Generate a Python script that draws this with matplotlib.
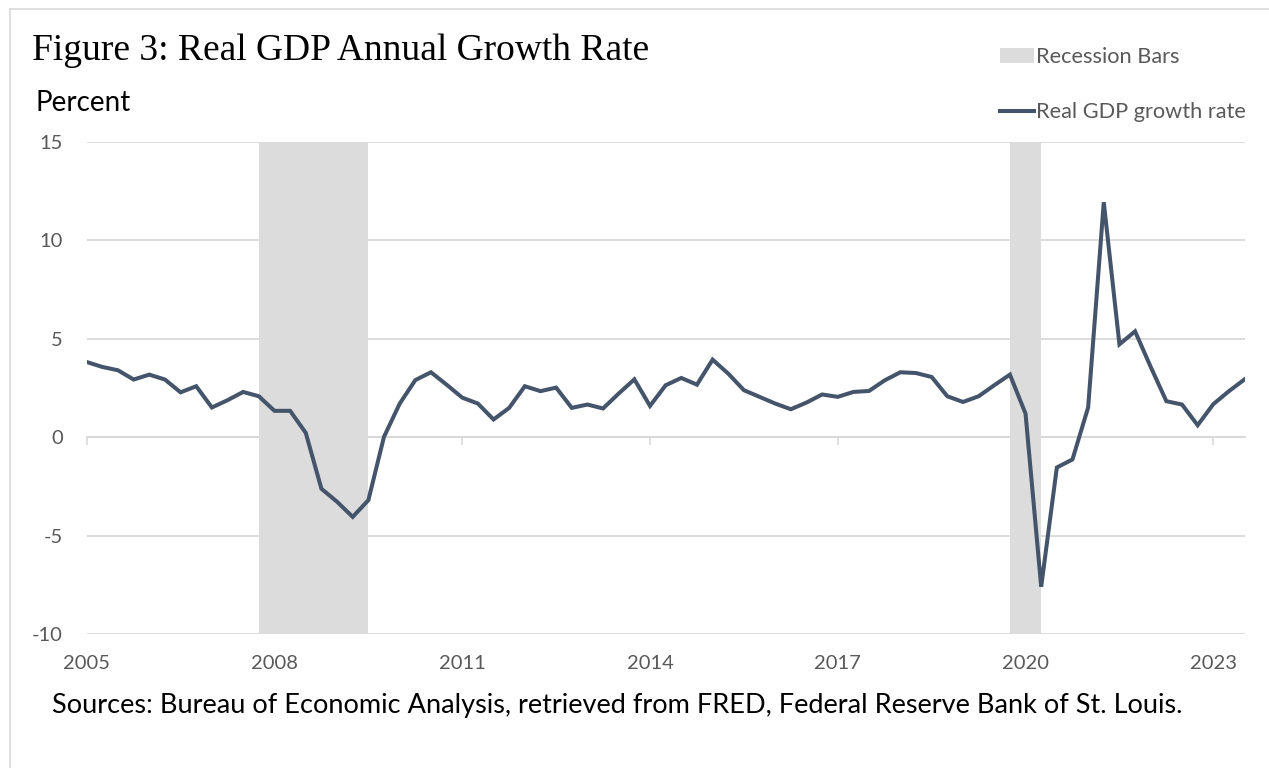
import numpy as np
import matplotlib.pyplot as plt
from matplotlib.lines import Line2D
from matplotlib.patches import Patch

# Real GDP, percent change from a year ago, quarterly 2005Q1 - 2023Q3
start_year = 2005
gdp_growth = [3.82, 3.57, 3.40, 2.93, 3.18, 2.93, 2.28, 2.59,
              1.51, 1.88, 2.30, 2.08, 1.34, 1.34, 0.22, -2.62,
              -3.28, -4.05, -3.20, 0.02, 1.70, 2.90, 3.30, 2.67,
              2.01, 1.71, 0.90, 1.49, 2.59, 2.34, 2.52, 1.49,
              1.66, 1.46, 2.22, 2.94, 1.59, 2.64, 3.01, 2.67,
              3.94, 3.23, 2.39, 2.05, 1.71, 1.42, 1.76, 2.17,
              2.05, 2.30, 2.35, 2.89, 3.30, 3.26, 3.06, 2.08,
              1.79, 2.08, 2.64, 3.18, 1.20, -7.60, -1.54, -1.13,
              1.51, 11.94, 4.72, 5.38, 3.57, 1.83, 1.66, 0.61,
              1.68, 2.34, 2.94]

# recession periods (fractional years)
recessions = [(2007.75, 2009.5), (2019.75, 2020.25)]

x_ticks = [2005, 2008, 2011, 2014, 2017, 2020, 2023]
y_ticks = [-10, -5, 0, 5, 10, 15]

line_color = "#44546a"
bar_color = "#dcdcdc"
grid_color = "#d9d9d9"
text_gray = "#595959"
sans = ["Lato", "DejaVu Sans"]

plt.rcParams["axes.unicode_minus"] = False

W, H = 1269, 768
fig = plt.figure(figsize=(W / 100, H / 100), dpi=100)
ax = fig.add_axes([86.7 / W, 1 - 634 / H, (1244.6 - 86.7) / W, (634 - 142) / H])

x = start_year + np.arange(len(gdp_growth)) / 4.0

for a, b in recessions:
    ax.axvspan(a, b, color=bar_color, lw=0, zorder=1)

ax.plot(x, gdp_growth, color=line_color, lw=2.9, solid_joinstyle="miter", zorder=3)

ax.set_xlim(x[0], x[-1])
ax.set_ylim(-10, 15)
ax.set_yticks(y_ticks)
ax.set_xticks(x_ticks)
ax.set_xticklabels([str(t) for t in x_ticks])
ax.yaxis.grid(True, color=grid_color, lw=1.3, zorder=0)
ax.set_axisbelow(True)
for s in ax.spines.values():
    s.set_visible(False)
ax.tick_params(axis="both", length=0, labelsize=14.5, labelcolor=text_gray)
ax.tick_params(axis="x", pad=15)
ax.tick_params(axis="y", pad=17)
for lab in ax.get_xticklabels() + ax.get_yticklabels():
    lab.set_family(sans)

# zero line with tick marks
sec = ax.secondary_xaxis(10 / 25)
sec.set_xticks(x_ticks)
sec.tick_params(axis="x", direction="out", length=6, width=1.2, color=grid_color,
                labelbottom=False, labeltop=False)
sec.spines["bottom"].set_color(grid_color)
sec.spines["bottom"].set_linewidth(1.3)
sec.set_xticklabels([])

# title and labels
fig.text(32 / W, 1 - 60 / H, "Figure 3: Real GDP Annual Growth Rate",
         family=["Liberation Serif", "DejaVu Serif"], fontsize=27, color="black",
         ha="left", va="baseline")
fig.text(36 / W, 1 - 111 / H, "Percent", family=sans, fontsize=20,
         color="black", ha="left", va="baseline")
fig.text(52 / W, 1 - 713 / H,
         "Sources: Bureau of Economic Analysis, retrieved from FRED, Federal Reserve Bank of St. Louis.",
         family=sans, fontsize=19.5, color="black", ha="left", va="baseline")

handles = [Patch(facecolor=bar_color, edgecolor="none"),
           Line2D([], [], color=line_color, lw=2.9)]
leg = fig.legend(handles, ["Recession Bars", "Real GDP growth rate"],
                 loc="upper right", bbox_to_anchor=(1261 / W, 1 - 32 / H),
                 frameon=False, handlelength=1.55, handleheight=0.65,
                 handletextpad=0.1, labelspacing=1.6, borderpad=0.2,
                 prop={"family": sans, "size": 15.7})
for t in leg.get_texts():
    t.set_color(text_gray)

# light frame on left and top
fig.add_artist(Line2D([10 / W, 10 / W], [0, 1 - 9 / H], color="#d9d9d9", lw=1.2,
                      transform=fig.transFigure))
fig.add_artist(Line2D([10 / W, 1], [1 - 9 / H, 1 - 9 / H], color="#d9d9d9", lw=1.2,
                      transform=fig.transFigure))

fig.savefig("out.png", dpi=100)
